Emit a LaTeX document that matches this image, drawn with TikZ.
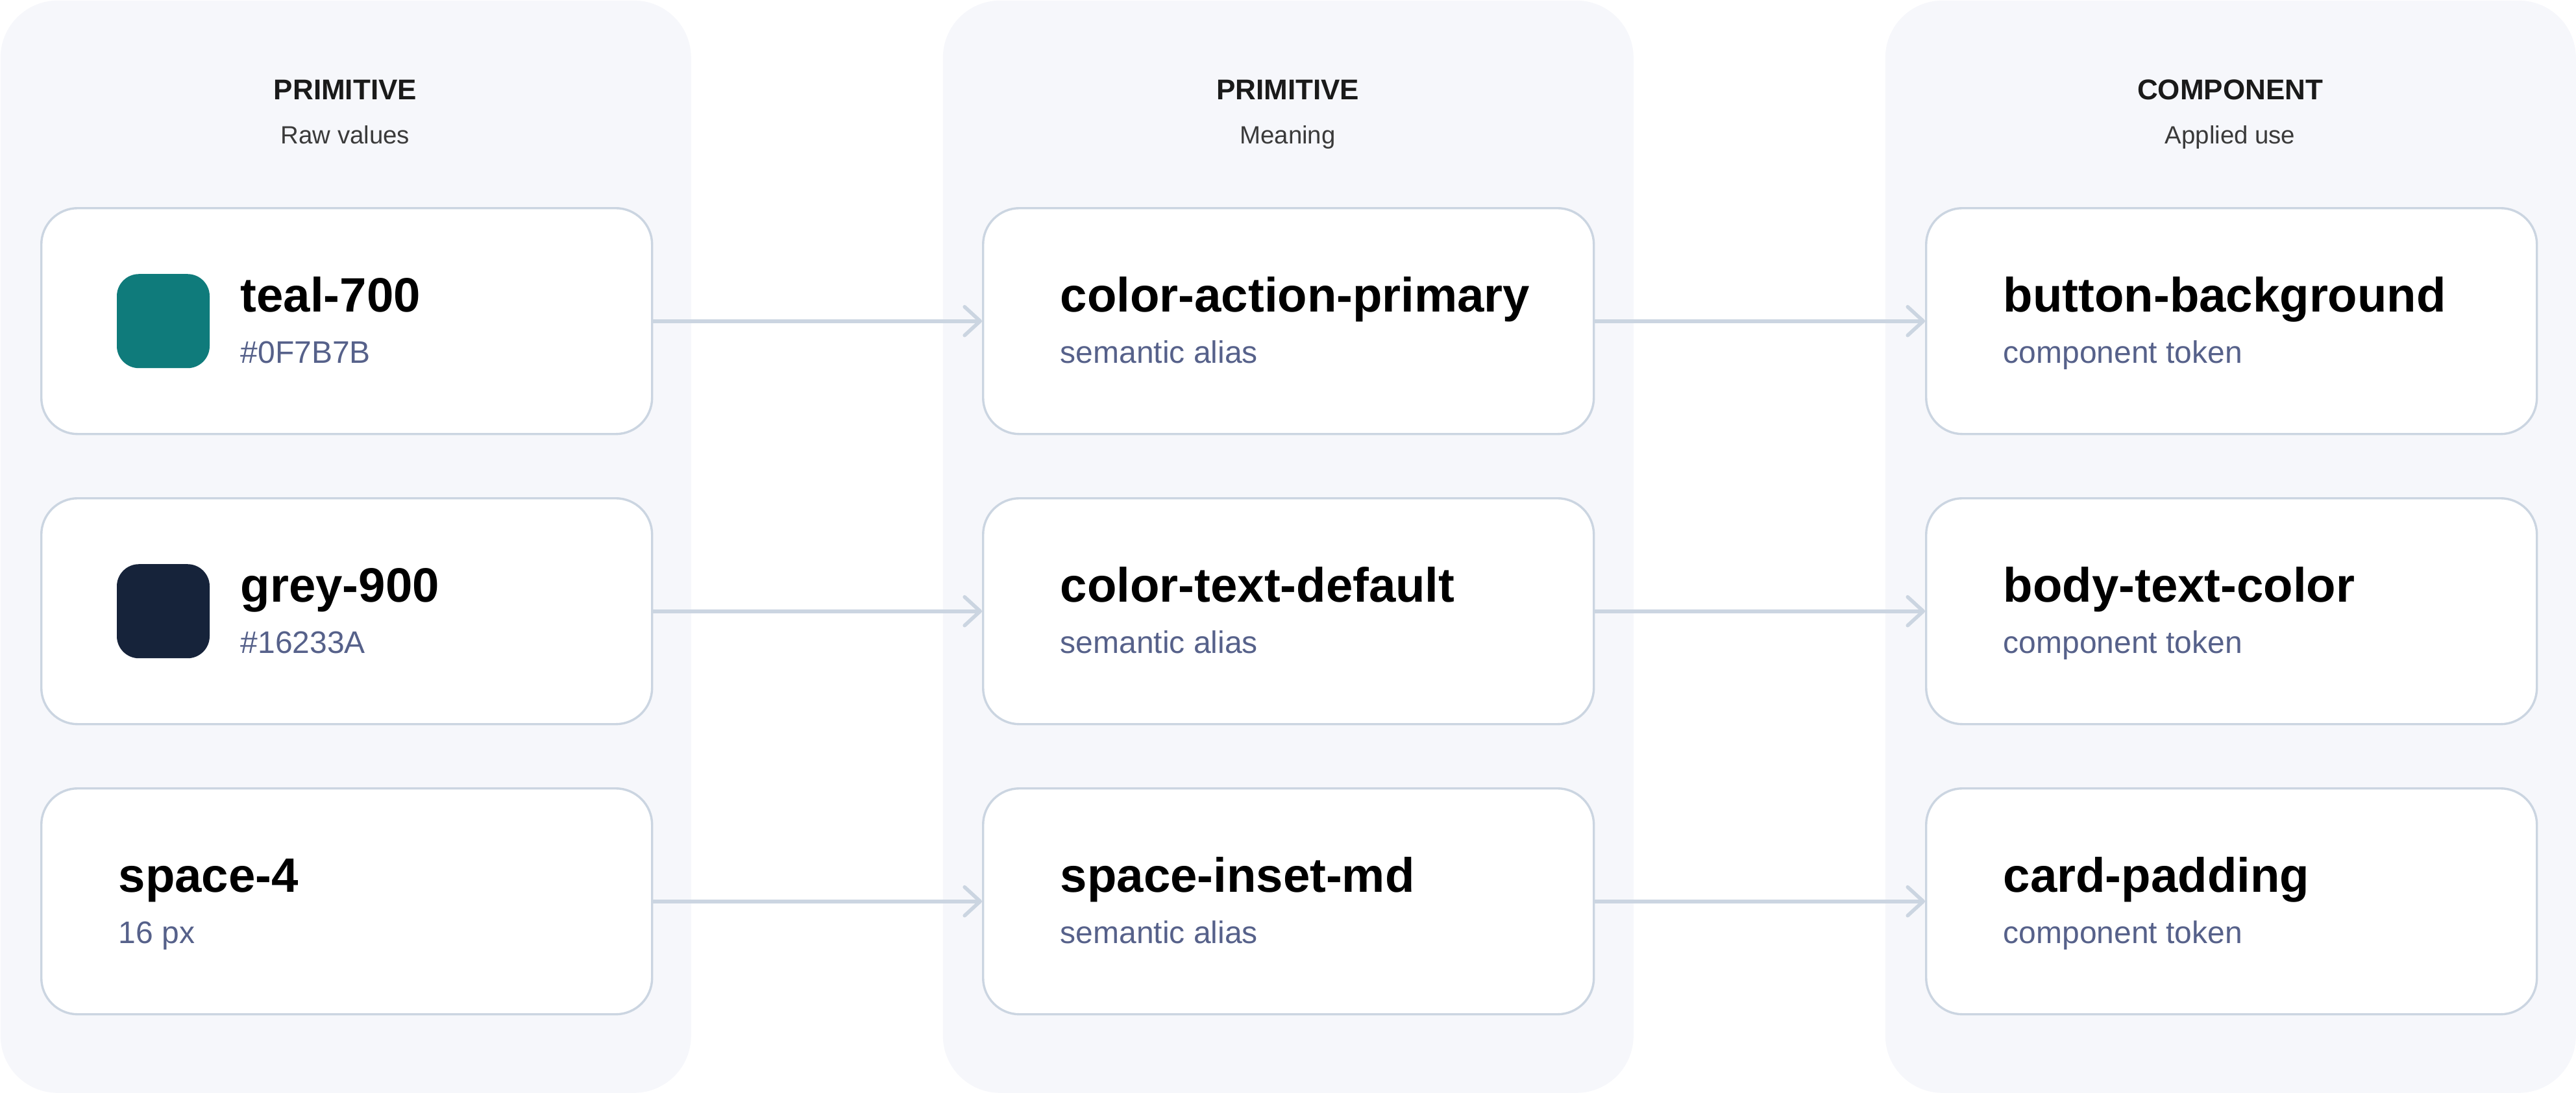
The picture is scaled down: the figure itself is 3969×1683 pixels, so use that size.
\documentclass[tikz,border=0pt]{standalone}
\usepackage{fontspec}
\setmainfont{Liberation Sans}
\usetikzlibrary{arrows.meta,calc}
\definecolor{panelbg}{HTML}{F6F7FB}
\definecolor{cardline}{HTML}{CBD5E1}
\definecolor{subc}{HTML}{56618A}
\definecolor{headc}{HTML}{1A1A1A}
\definecolor{headsub}{HTML}{3A3A3A}
\definecolor{tealsw}{HTML}{0F7B7B}
\definecolor{greysw}{HTML}{16233A}
\begin{document}
\begin{tikzpicture}[x=0.25pt,y=-0.25pt,
 panel/.style={fill=panelbg, rounded corners=22pt, minimum width=266pt, minimum height=420.75pt, anchor=north west, inner sep=0pt, draw=none},
 card/.style={draw=cardline, line width=0.85pt, fill=white, rounded corners=14pt, minimum width=235.25pt, minimum height=87pt, anchor=north west, inner sep=0pt},
 ttl/.style={anchor=base west, inner sep=0pt, font=\bfseries\fontsize{18.6pt}{22pt}\selectfont, text=black},
 sub/.style={anchor=base west, inner sep=0pt, font=\fontsize{12pt}{14pt}\selectfont, text=subc},
 hd/.style={anchor=base, inner sep=0pt, font=\bfseries\fontsize{11pt}{13pt}\selectfont, text=headc},
 hdsub/.style={anchor=base, inner sep=0pt, font=\fontsize{9.6pt}{11pt}\selectfont, text=headsub},
 swatch/.style={minimum width=35.75pt, minimum height=36.25pt, rounded corners=8.5pt, inner sep=0pt, draw=none},
 link/.style={draw=cardline, line width=1.4pt, -{Straight Barb[length=6pt,width=11pt,round]}}
]
\useasboundingbox (0,0) rectangle (3969,1683);
% panels
\node[panel] (p1) at (0,0) {};
\node[panel] (p2) at (1452,0) {};
\node[panel] (p3) at (2904,0) {};
% headers
\node[hd] (h1) at (532,153) {PRIMITIVE};
\node[hdsub] (h1s) at (532,221) {Raw values};
\node[hd] (h2) at (1984,153) {PRIMITIVE};
\node[hdsub] (h2s) at (1984,221) {Meaning};
\node[hd] (h3) at (3436,153) {COMPONENT};
\node[hdsub] (h3s) at (3436,221) {Applied use};
% cards
\node[card] (c11) at (62,319) {};
\node[card] (c12) at (62,766) {};
\node[card] (c13) at (62,1213) {};
\node[card] (c21) at (1513,319) {};
\node[card] (c22) at (1513,766) {};
\node[card] (c23) at (1513,1213) {};
\node[card] (c31) at (2966,319) {};
\node[card] (c32) at (2966,766) {};
\node[card] (c33) at (2966,1213) {};
% column 1 contents
\node[swatch, fill=tealsw] (s11) at ($(c11.west)+(189.5,0)$) {};
\node[ttl] (t11) at ($(c11.west)+(308,-14)$) {teal-700};
\node[sub] (u11) at ($(c11.west)+(308,65)$) {\#0F7B7B};
\node[swatch, fill=greysw] (s12) at ($(c12.west)+(189.5,0)$) {};
\node[ttl] (t12) at ($(c12.west)+(308,-14)$) {grey-900};
\node[sub] (u12) at ($(c12.west)+(308,65)$) {\#16233A};
\node[ttl] (t13) at ($(c13.west)+(120,-14)$) {space-4};
\node[sub] (u13) at ($(c13.west)+(120,65)$) {16 px};
% column 2 contents
\node[ttl] (t21) at ($(c21.west)+(120,-14)$) {color-action-primary};
\node[sub] (u21) at ($(c21.west)+(120,65)$) {semantic alias};
\node[ttl] (t22) at ($(c22.west)+(120,-14)$) {color-text-default};
\node[sub] (u22) at ($(c22.west)+(120,65)$) {semantic alias};
\node[ttl] (t23) at ($(c23.west)+(120,-14)$) {space-inset-md};
\node[sub] (u23) at ($(c23.west)+(120,65)$) {semantic alias};
% column 3 contents
\node[ttl] (t31) at ($(c31.west)+(120,-14)$) {button-background};
\node[sub] (u31) at ($(c31.west)+(120,65)$) {component token};
\node[ttl] (t32) at ($(c32.west)+(120,-14)$) {body-text-color};
\node[sub] (u32) at ($(c32.west)+(120,65)$) {component token};
\node[ttl] (t33) at ($(c33.west)+(120,-14)$) {card-padding};
\node[sub] (u33) at ($(c33.west)+(120,65)$) {component token};
% connectors
\draw[link] (c11.east) -- (c21.west);
\draw[link] (c12.east) -- (c22.west);
\draw[link] (c13.east) -- (c23.west);
\draw[link] (c21.east) -- (c31.west);
\draw[link] (c22.east) -- (c32.west);
\draw[link] (c23.east) -- (c33.west);
\end{tikzpicture}
\end{document}
